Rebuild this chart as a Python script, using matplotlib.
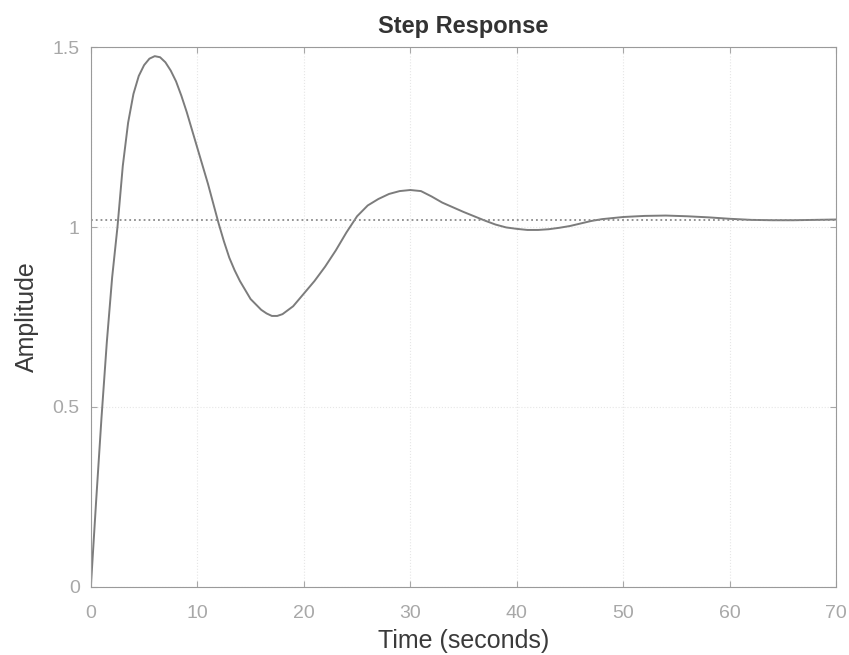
import numpy as np
import matplotlib
matplotlib.use("Agg")
import matplotlib.pyplot as plt

# values
t = [0, 0.5, 1.0, 1.5, 2.0, 2.5, 3.0, 3.5, 4.0, 4.5, 5.0, 5.5, 6.0, 6.5, 7.0, 7.5,
     8.0, 8.5, 9.0, 9.5, 10.0, 10.5, 11.0, 11.5, 12.0, 12.5, 13.0, 13.5, 14.0,
     15.0, 16.0, 16.5, 17.0, 17.5, 18.0, 19.0, 20.0, 21.0, 22.0, 23.0, 24.0,
     25.0, 26.0, 27.0, 28.0, 29.0, 30.0, 31.0, 32.0, 33.0, 34.0, 35.0, 36.0,
     37.0, 38.0, 39.0, 40.0, 41.0, 42.0, 43.0, 44.0, 45.0, 46.0, 47.0, 48.0,
     50.0, 52.0, 54.0, 56.0, 58.0, 60.0, 62.0, 64.0, 66.0, 68.0, 70.0]
amp = [0, 0.24, 0.47, 0.68, 0.86, 1.0, 1.17, 1.29, 1.37, 1.42, 1.45, 1.468, 1.475,
       1.472, 1.458, 1.435, 1.405, 1.365, 1.32, 1.27, 1.22, 1.17, 1.12, 1.065,
       1.01, 0.96, 0.915, 0.88, 0.85, 0.80, 0.77, 0.76, 0.753, 0.753, 0.758,
       0.78, 0.815, 0.85, 0.89, 0.935, 0.985, 1.03, 1.06, 1.078, 1.092, 1.10,
       1.103, 1.10, 1.085, 1.068, 1.055, 1.042, 1.03, 1.018, 1.007, 0.999,
       0.995, 0.992, 0.992, 0.994, 0.998, 1.003, 1.01, 1.017, 1.022, 1.028,
       1.031, 1.032, 1.03, 1.027, 1.023, 1.02, 1.019, 1.019, 1.02, 1.021]
final_value = 1.02

xticks = [0, 10, 20, 30, 40, 50, 60, 70]
yticks = [0, 0.5, 1, 1.5]
yticklabels = ["0", "0.5", "1", "1.5"]

plt.rcParams['font.family'] = ['Liberation Sans', 'DejaVu Sans']

fig = plt.figure(figsize=(8.49, 6.55), dpi=100)
ax = fig.add_axes([0.107, 0.104, 0.878, 0.824])

ax.plot(t, amp, color='#7c7c7c', lw=1.4)
ax.axhline(final_value, color='#8a8a8a', lw=1.3, ls=':')

ax.set_xlim(0, 70)
ax.set_ylim(0, 1.5)
ax.set_xticks(xticks)
ax.set_yticks(yticks)
ax.set_yticklabels(yticklabels)
ax.grid(True, color='#e6e6e6', ls=':', lw=0.8)

ax.tick_params(direction='in', top=True, right=True, colors='#a8a8a8',
               labelsize=14, length=4)
ax.tick_params(axis='x', pad=13)
ax.tick_params(axis='y', pad=8)
for s in ax.spines.values():
    s.set_color('#9a9a9a')

ax.set_title('Step Response', fontsize=17, fontweight='bold', color='#333333', pad=10)
ax.set_xlabel('Time (seconds)', fontsize=18, color='#3a3a3a', labelpad=5)
ax.set_ylabel('Amplitude', fontsize=18, color='#3a3a3a', labelpad=10)

fig.savefig('out.png', dpi=100)
